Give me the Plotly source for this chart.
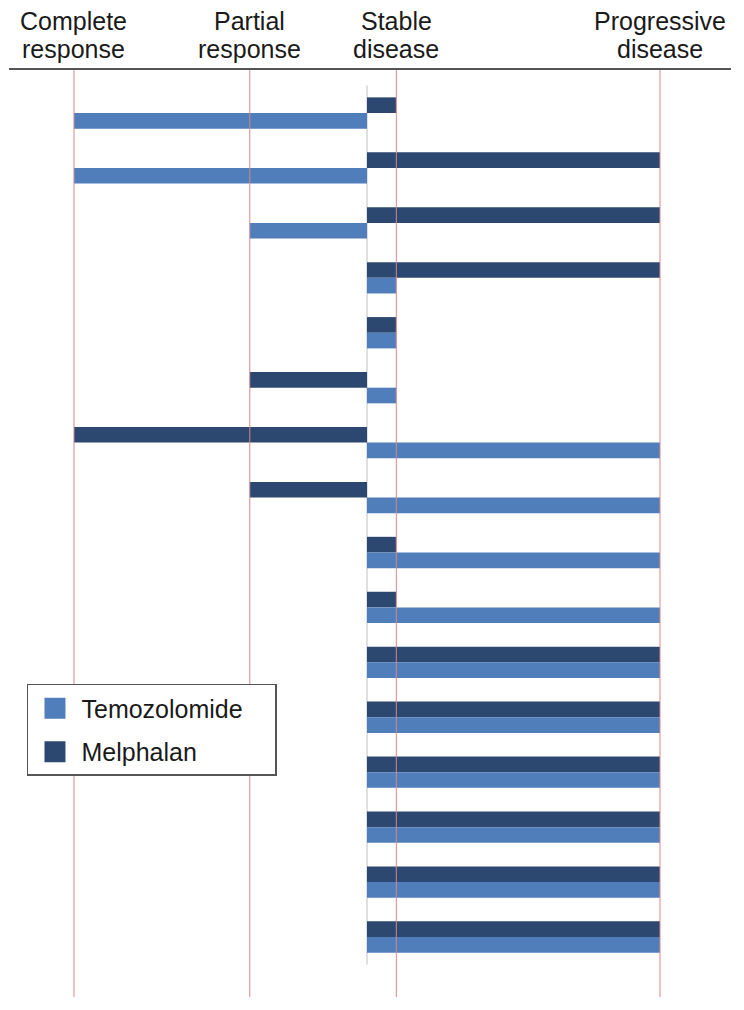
import plotly.graph_objects as go

# Response categories and their positions on the (arbitrary) response scale
response_labels = ["Complete<br>response", "Partial<br>response", "Stable<br>disease", "Progressive<br>disease"]
response_codes = ["CR", "PR", "SD", "PD"]
response_scores = [-10, -4, 1, 10]

patients = [f"Patient {i}" for i in range(1, 17)]

temozolomide = ["CR", "CR", "PR", "SD", "SD", "SD", "PD", "PD",
                "PD", "PD", "PD", "PD", "PD", "PD", "PD", "PD"]
melphalan = ["SD", "PD", "PD", "PD", "SD", "PR", "CR", "PR",
             "SD", "SD", "PD", "PD", "PD", "PD", "PD", "PD"]

score = dict(zip(response_codes, response_scores))
temo_vals = [score[c] for c in temozolomide]
mel_vals = [score[c] for c in melphalan]

TEMO_COLOR = "#4F7EBB"
MEL_COLOR = "#2C4770"
RED = "#D9868A"
FONT = "Liberation Sans, Arial, sans-serif"
TEXT = "#1a1a1a"
PAD = "\u00a0" * 4  # widen the legend box like the original

fig = go.Figure()
# first trace sits at the top of each band (y axis reversed)
fig.add_trace(go.Bar(y=patients, x=mel_vals, orientation="h", name="Melphalan",
                     marker=dict(color=MEL_COLOR, line=dict(width=0)), showlegend=False))
fig.add_trace(go.Bar(y=patients, x=temo_vals, orientation="h", name="Temozolomide",
                     marker=dict(color=TEMO_COLOR, line=dict(width=0)), showlegend=False))
# legend entries
fig.add_trace(go.Scatter(x=[None], y=[None], mode="markers", name="Temozolomide" + PAD,
                         marker=dict(symbol="square", size=16, color=TEMO_COLOR,
                                     line=dict(color=TEMO_COLOR, width=5)),
                         legendgroup="t"))
fig.add_trace(go.Scatter(x=[None], y=[None], mode="markers", name="Melphalan" + PAD,
                         marker=dict(symbol="square", size=16, color=MEL_COLOR,
                                     line=dict(color=MEL_COLOR, width=5)),
                         legendgroup="m"))

shapes = []
for v in response_scores:
    shapes.append(dict(type="line", xref="x", yref="paper", x0=v, x1=v, y0=0, y1=1,
                       line=dict(color=RED, width=1), layer="above"))
# zero axis line spanning the categories
shapes.append(dict(type="line", xref="x", yref="y", x0=0, x1=0, y0=-0.5, y1=len(patients) - 0.5,
                   line=dict(color="#BFBFBF", width=1), layer="below"))

# header labels (one annotation per text line)
annotations = []
line_y = [1.0525, 1.0223]
for v, lab in zip(response_scores, response_labels):
    for k, part in enumerate(lab.split("<br>")):
        annotations.append(dict(x=v, y=line_y[k], xref="x", yref="paper", text=part,
                                showarrow=False, xanchor="center", yanchor="middle",
                                font=dict(family=FONT, size=25, color=TEXT)))

n = len(patients)
fig.update_layout(
    width=736, height=1002,
    margin=dict(l=1, r=13, t=62, b=13),
    paper_bgcolor="white", plot_bgcolor="white",
    barmode="group", bargap=0.43, bargroupgap=0,
    font=dict(family=FONT, size=25, color=TEXT),
    xaxis=dict(range=[-12.218, 12.423], side="top", tickmode="array",
               tickvals=response_scores, showticklabels=False,
               showgrid=False, zeroline=False, showline=True,
               linecolor="#555555", linewidth=1.5, ticks="",
               fixedrange=True),
    yaxis=dict(type="category", categoryorder="array", categoryarray=patients,
               range=[n - 1 + 1.092, -0.783], showticklabels=False,
               showgrid=False, zeroline=False, showline=False, ticks=""),
    shapes=shapes,
    annotations=annotations,
    legend=dict(x=0.0249, y=0.3377, xanchor="left", yanchor="top",
                bordercolor="#555555", borderwidth=1.5, bgcolor="white",
                font=dict(family=FONT, size=25, color=TEXT),
                itemwidth=43, tracegroupgap=8, traceorder="grouped"),
)

fig.write_html("out.html")
